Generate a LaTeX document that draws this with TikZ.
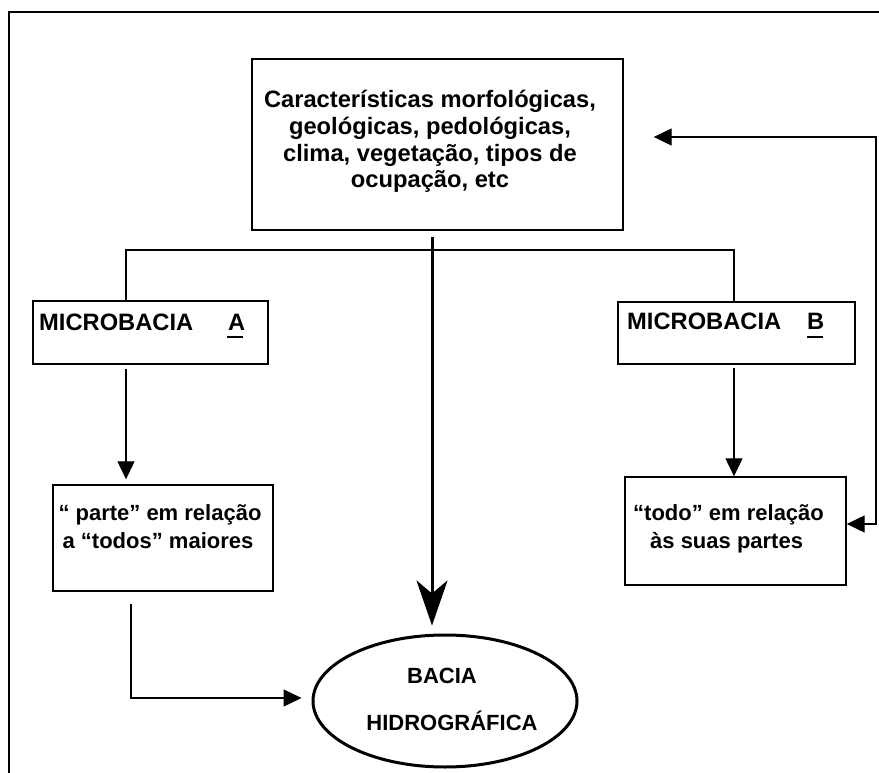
\documentclass[tikz,border=0pt]{standalone}
\usepackage{fontspec}
\setmainfont{Liberation Sans}
\usetikzlibrary{arrows.meta,shapes.geometric,calc}
\begin{document}
\begin{tikzpicture}[x=1pt,y=-1pt,
  box/.style={draw,line width=1.4pt,inner sep=0pt,rectangle},
  bigtxt/.style={font=\fontsize{23.7}{26.7}\selectfont\bfseries,inner sep=0pt,anchor=base},
  smalltxt/.style={font=\fontsize{22}{26}\selectfont\bfseries,inner sep=0pt,anchor=base},
  conn/.style={line width=1.3pt},
  arr/.style={-{Triangle[length=18pt,width=17pt]}},
  bigconn/.style={line width=3pt,-{Stealth[length=45pt,width=31pt,inset=13pt]}},
  frameline/.style={line width=2pt}]
\useasboundingbox (0,0) rectangle (879,773);
% frame
\draw[frameline] (9,800) -- (9,12) -- (900,12);
% boxes
\node[box,minimum width=371pt,minimum height=171pt] (top) at (437.5,144.5) {};
\node[box,minimum width=235pt,minimum height=63pt] (microA) at (150.5,332.5) {};
\node[box,minimum width=237pt,minimum height=62pt] (microB) at (736.5,333) {};
\node[box,minimum width=220pt,minimum height=106pt] (parte) at (163,538) {};
\node[box,minimum width=221pt,minimum height=108pt] (todo) at (735.5,531) {};
\node[draw,ellipse,line width=3pt,inner sep=0pt,minimum width=264pt,minimum height=132pt] (bacia) at (445,701) {};
% texts
\node[bigtxt] (t1) at (430,108) {Características morfológicas,};
\node[bigtxt] (t2) at (430,135) {geológicas, pedológicas,};
\node[bigtxt] (t3) at (430,161.5) {clima, vegetação, tipos de};
\node[bigtxt] (t4) at (430,188) {ocupação, etc};
\node[bigtxt,anchor=base west] (ma) at (39,330) {MICROBACIA};
\node[bigtxt,anchor=base west] (maA) at (228,330) {A};
\node[bigtxt,anchor=base west] (mb) at (627,329) {MICROBACIA};
\node[bigtxt,anchor=base west] (mbB) at (807,329) {B};
\coordinate (ulA1) at (227,337); \coordinate (ulA2) at (243,337);
\coordinate (ulB1) at (807,337); \coordinate (ulB2) at (823,337);
\draw[line width=2.5pt] (ulA1) -- (ulA2);
\draw[line width=2.5pt] (ulB1) -- (ulB2);
\node[smalltxt] (p1) at (160,520) {“ parte” em relação};
\node[smalltxt] (p2) at (158,548) {a “todos” maiores};
\node[smalltxt,anchor=base west] (d1) at (633,520) {“todo” em relação};
\node[smalltxt,anchor=base west] (d2) at (650,548) {às suas partes};
\node[smalltxt] (b1) at (442,683) {BACIA};
\node[smalltxt] (b2) at (452,730) {HIDROGRÁFICA};
% connectors
\coordinate (jl) at (126,250);
\coordinate (jr) at (734,250);
\draw[conn] (microA.north -| jl) -- (jl) -- (jr) -- (microB.north -| jr);
\draw[bigconn] ($(top.south)+(-5.5,6)$) -- ($(bacia.north)+(-13,-8)$);
\draw[conn,arr,shorten >=5pt] ($(microA.south -| jl)+(0,4)$) -- (parte.north -| jl);
\draw[conn,arr] ($(microB.south -| jr)+(0,3)$) -- (todo.north -| jr);
\coordinate (pc) at (131,698);
\draw[conn,arr,shorten >=10pt] ($(parte.south -| pc)+(0,12)$) -- (pc) -- (bacia.west |- pc);
\coordinate (fb) at (876,137);
\coordinate (fbb) at (876,524);
\draw[conn,{Triangle[length=18pt,width=17pt]}-{Triangle[length=18pt,width=17pt]}] ($(top.east |- fb)+(30,0)$) -- (fb) -- (fbb) -- (todo.east |- fbb);
\end{tikzpicture}
\end{document}
